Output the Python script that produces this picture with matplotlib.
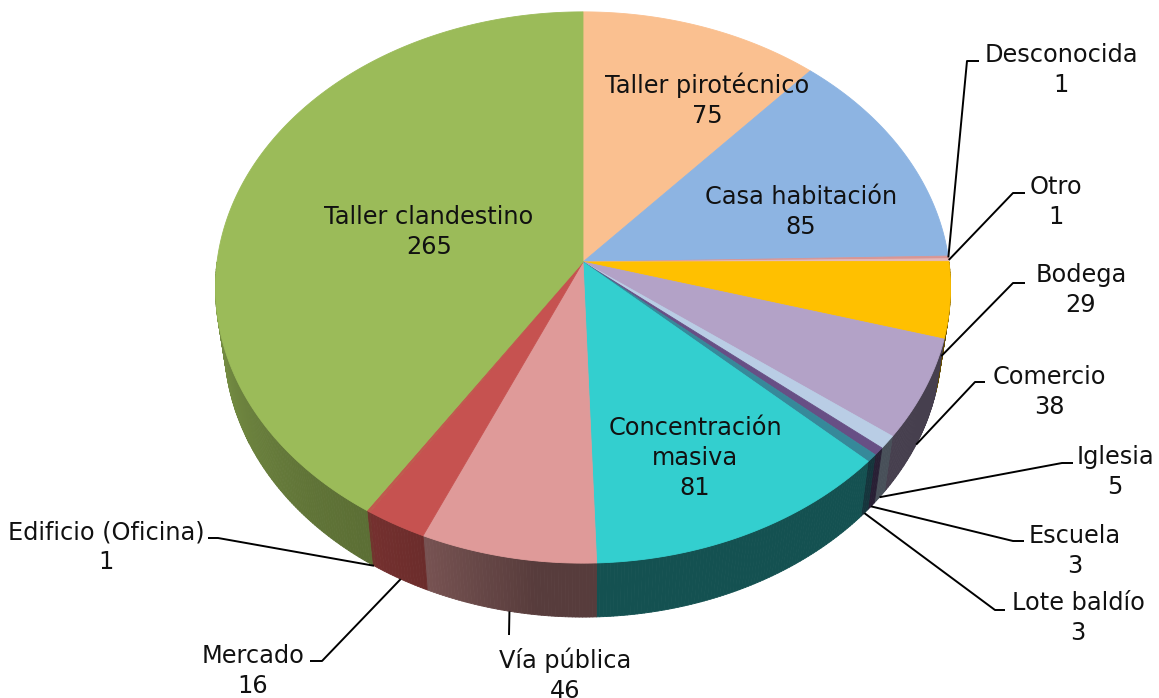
import numpy as np
import matplotlib
matplotlib.use("Agg")
import matplotlib.pyplot as plt
from matplotlib.collections import PolyCollection
from matplotlib.colors import to_rgb

# datos (sentido horario desde arriba)
categorias = ["Taller pirotécnico", "Casa habitación", "Desconocida", "Otro", "Bodega",
              "Comercio", "Iglesia", "Escuela", "Lote baldío", "Concentración\nmasiva",
              "Vía pública", "Mercado", "Edificio (Oficina)", "Taller clandestino"]
valores = [75, 85, 1, 1, 29, 38, 5, 3, 3, 81, 46, 16, 1, 265]
colores = ["#FAC090", "#8DB4E2", "#D99694", "#E6B9B8", "#FFC000", "#B3A2C7", "#B9CDE5",
           "#674F85", "#36899A", "#33CFCF", "#DF9A99", "#C65250", "#C05A4E", "#9BBB59"]

# posicion de etiquetas (centro del bloque)
etiq_pos = [(707, 100), (801, 212), (1061, 70), (1056, 202), (1081, 290), (1049, 392),
            (1115, 472), (1075, 551), (1078, 618), (695, 458), (565, 675), (253, 671),
            (106, 547), (429, 232)]
# codo de la linea guia y fin horizontal
codos = [None, None, ((967, 61), (979, 61)), ((1013, 193), (1025, 193)),
         ((1013, 283), (1025, 283)), ((975, 382), (985, 382)), ((1062, 463), (1073, 463)),
         ((1013, 541), (1024, 541)), ((995, 610), (1005, 610)), None,
         ((509, 635), (509, 635)), ((322, 661), (310, 661)), ((218, 538), (208, 538)), None]

# geometria 3D
cx, cy = 583, 262
elev = np.radians(48.3)
s, c = np.sin(elev), np.cos(elev)
D = 7.19
F = 366 * D
t = 0.237


def proyectar(theta, z):
    th = np.radians(theta)
    px, py = np.sin(th), np.cos(th)
    yc = py * s + z * c
    zc = D + py * c - z * s
    return cx + px * F / zc, cy - yc * F / zc


def sombra(theta):
    return np.interp(theta, [90, 187, 205, 213, 225, 255, 270],
                     [0.39, 0.39, 0.55, 0.59, 0.62, 0.74, 0.74])


fig = plt.figure(figsize=(11.59, 6.98), dpi=100)
ax = fig.add_axes([0, 0, 1, 1])
ax.set_xlim(0, 1159)
ax.set_ylim(698, 0)
ax.axis("off")

total = sum(valores)
bordes = np.concatenate([[0], np.cumsum(valores)]) / total * 360

# paredes laterales
quads, qcol = [], []
for i in range(len(valores)):
    a, b = max(bordes[i], 90), min(bordes[i + 1], 270)
    if b <= a:
        continue
    n = max(2, int((b - a) / 0.5) + 1)
    th = np.linspace(a, b, n)
    base = np.array(to_rgb(colores[i]))
    for k in range(n - 1):
        x0, y0 = proyectar(th[k], 0)
        x1, y1 = proyectar(th[k + 1], 0)
        x2, y2 = proyectar(th[k + 1], -t)
        x3, y3 = proyectar(th[k], -t)
        quads.append([(x0, y0), (x1, y1), (x2, y2), (x3, y3)])
        qcol.append(base * sombra((th[k] + th[k + 1]) / 2))
ax.add_collection(PolyCollection(quads, facecolors=qcol, edgecolors=qcol, linewidths=0.6))

# caras superiores
for i in range(len(valores)):
    n = max(2, int((bordes[i + 1] - bordes[i]) / 0.5) + 2)
    th = np.linspace(bordes[i], bordes[i + 1], n)
    xs, ys = proyectar(th, 0)
    pts = [(cx, cy)] + list(zip(xs, ys))
    ax.add_patch(plt.Polygon(pts, closed=True, facecolor=colores[i],
                             edgecolor=colores[i], linewidth=0.6))

# etiquetas y guias
for i in range(len(valores)):
    tx, ty = etiq_pos[i]
    ax.text(tx, ty, f"{categorias[i]}\n{valores[i]}", ha="center", va="center",
            multialignment="center", fontsize=17.3, color="#111111", linespacing=1.3,
            family="DejaVu Sans")
    if codos[i] is not None:
        mid = (bordes[i] + bordes[i + 1]) / 2
        z = -t if 90 <= mid <= 270 else 0
        axx, ayy = proyectar(mid, z)
        (ex, ey), (fx, fy) = codos[i]
        ax.plot([axx, ex, fx], [ayy, ey, fy], color="black", lw=1.4,
                solid_capstyle="butt")

fig.savefig("out.png", dpi=100)
